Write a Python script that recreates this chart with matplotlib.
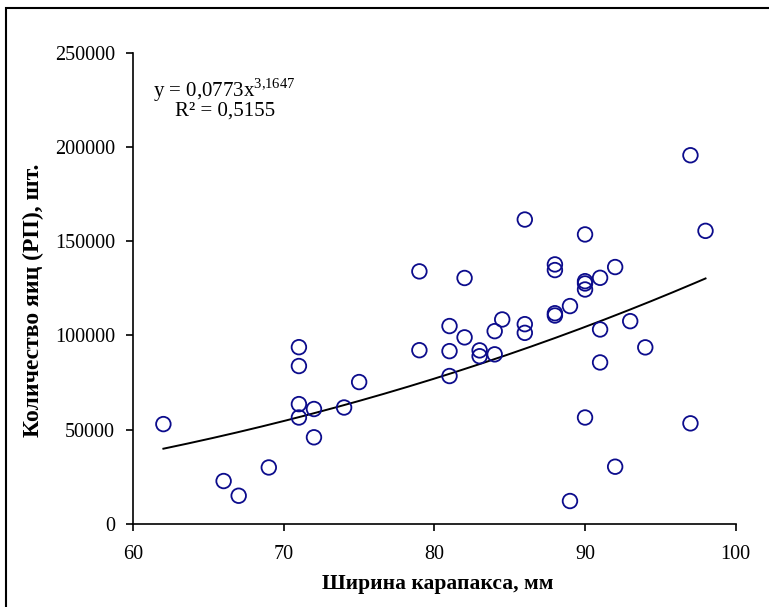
import matplotlib
matplotlib.use("Agg")
import matplotlib.pyplot as plt
import matplotlib.patches as patches
import numpy as np

plt.rcParams['font.family'] = ['Liberation Serif', 'DejaVu Serif']
plt.rcParams['mathtext.fontset'] = 'custom'
plt.rcParams['mathtext.rm'] = 'Liberation Serif'

# ширина карапакса, мм
width_mm = [62, 66, 67, 69, 71, 71, 71, 71, 72, 72, 74, 75, 79, 79,
            81, 81, 81, 82, 82, 83, 83, 84, 84, 84.5, 86, 86, 86,
            88, 88, 88, 88, 89, 89, 90, 90, 90, 90, 90, 91, 91, 91,
            92, 92, 93, 94, 97, 97, 98]
# количество яиц (РП), шт.
eggs = [53000, 22800, 15000, 30000, 93800, 83800, 63600, 56500, 61000, 46000,
        61800, 75300, 134000, 92200, 105000, 91700, 78500, 130500, 99000,
        92100, 89000, 102300, 90000, 108500, 161500, 106000, 101400,
        137700, 134700, 111800, 110600, 115600, 12200, 153600, 128800,
        127600, 124400, 56500, 130600, 103200, 85700, 136300, 30400,
        107600, 93700, 195600, 53400, 155500]

# линия тренда
trend_x = [62, 72, 81, 88, 98]
trend_y = [39800, 59000, 79900, 98600, 129900]

xticks = [60, 70, 80, 90, 100]
yticks = [0, 50000, 100000, 150000, 200000, 250000]

fig = plt.figure(figsize=(7.69, 6.07), dpi=100)
ax = fig.add_axes([0.1733, 0.1367, 0.7833, 0.7765])

# степенная аппроксимация по точкам линии тренда
b, ln_a = np.polyfit(np.log(trend_x), np.log(trend_y), 1)
xs = np.linspace(trend_x[0], trend_x[-1], 200)
ax.plot(xs, np.exp(ln_a) * xs ** b, color='black', lw=1.4, zorder=2)

ax.scatter(width_mm, eggs, s=110, facecolors='none', edgecolors='#0c0c8c',
           linewidths=1.3, zorder=3)

ax.set_xlim(60, 100)
ax.set_ylim(0, 250000)
ax.set_xticks(xticks)
ax.set_yticks(yticks)
ax.set_xticklabels([str(t) for t in xticks])
ax.set_yticklabels([str(t) for t in yticks])
ax.tick_params(axis='both', direction='out', length=5, width=1.2,
               labelsize=14.5, pad=8)
ax.tick_params(axis='x', pad=10)
for s in ['top', 'right']:
    ax.spines[s].set_visible(False)
for s in ['left', 'bottom']:
    ax.spines[s].set_linewidth(1.2)

ax.set_xlabel('Ширина карапакса, мм', fontsize=15.5, fontweight='bold')
ax.xaxis.set_label_coords(0.505, -0.106)
ax.set_ylabel('Количество яиц (РП), шт.', fontsize=17, fontweight='bold')
ax.yaxis.set_label_coords(-0.148, 0.475)

ax.text(0.032, 0.907, r'y = 0,0773x$^{3{,}1647}$', transform=ax.transAxes,
        fontsize=15)
ax.text(0.069, 0.866, 'R² = 0,5155', transform=ax.transAxes, fontsize=15)

# рамка области диаграммы
fig.patches.append(patches.Rectangle((6 / 769, -0.1), 2, 1 - 7.7 / 607 + 0.1,
                                     transform=fig.transFigure, fill=False,
                                     lw=1.5, edgecolor='black'))

fig.savefig('out.png', dpi=100)
